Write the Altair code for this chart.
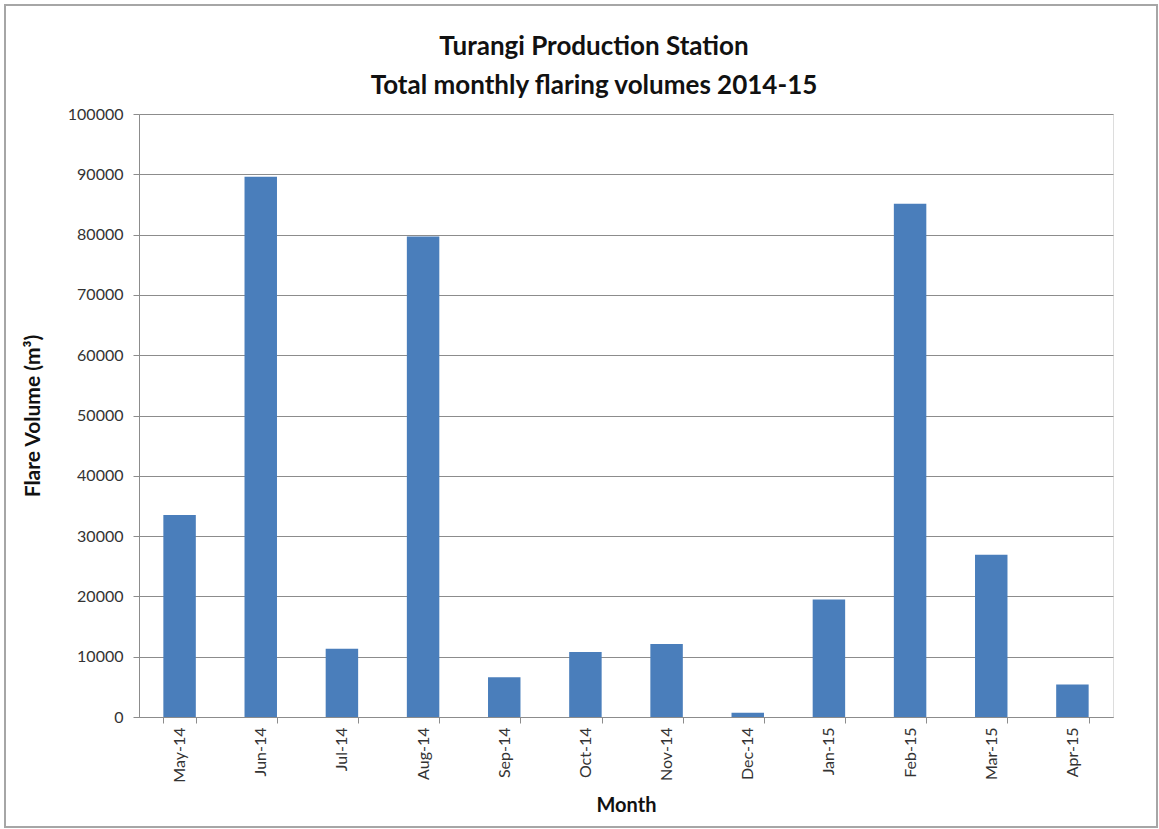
import altair as alt
import pandas as pd

months = ["May-14", "Jun-14", "Jul-14", "Aug-14", "Sep-14", "Oct-14",
          "Nov-14", "Dec-14", "Jan-15", "Feb-15", "Mar-15", "Apr-15"]
volumes = [33500, 89600, 11300, 79700, 6600, 10800,
           12100, 700, 19500, 85100, 26900, 5400]
y_ticks = [0, 10000, 20000, 30000, 40000, 50000, 60000, 70000, 80000, 90000, 100000]

df = pd.DataFrame({"Month": months, "Volume": volumes})

FONT = "Lato"
GRID = "#8c8c8c"

bars = alt.Chart(df).mark_bar(color="#4a7ebb").encode(
    x=alt.X("Month:N", sort=months,
            scale=alt.Scale(paddingInner=0.6, paddingOuter=0.3),
            axis=alt.Axis(title="Month", labelAngle=-90, tickBand="extent",
                          tickSize=6, tickColor=GRID, domainColor=GRID,
                          labelPadding=4, labelFontSize=16, labelColor="#333333",
                          labelFont=FONT, titleFont=FONT, titleFontSize=20,
                          titleFontWeight="bold", titleColor="#111111",
                          titlePadding=13)),
    y=alt.Y("Volume:Q",
            scale=alt.Scale(domain=[0, 100000], nice=False),
            axis=alt.Axis(title="Flare Volume (m³)", values=y_ticks, format="d",
                          grid=True, gridColor=GRID, tickColor=GRID, domainColor=GRID,
                          tickSize=6, labelPadding=10, labelFontSize=16,
                          labelColor="#333333", labelFont=FONT, titleFont=FONT,
                          titleFontSize=21, titleFontWeight="bold",
                          titleColor="#111111", titlePadding=24)),
)

frame = alt.Chart(alt.Data(values=[{}])).mark_rect(
    fill=None, stroke="#a6a6a6", strokeWidth=2
).encode(
    x=alt.value(-134), x2=alt.value(1018), y=alt.value(-109), y2=alt.value(713)
)

chart = alt.layer(bars, frame).properties(
    width=974,
    height=603,
    title=alt.TitleParams(
        text=["Turangi Production Station", "Total monthly flaring volumes 2014-15"],
        font=FONT, fontSize=26, fontWeight="bold", color="#111111",
        lineHeight=39, anchor="middle", dx=-32, offset=-95,
    ),
    autosize=alt.AutoSizeParams(type="none"),
    padding={"left": 139, "top": 114, "right": 46, "bottom": 112},
).configure_view(stroke=None).configure(background="white")

chart.save("out.html", embed_options={"renderer": "svg", "actions": False})
